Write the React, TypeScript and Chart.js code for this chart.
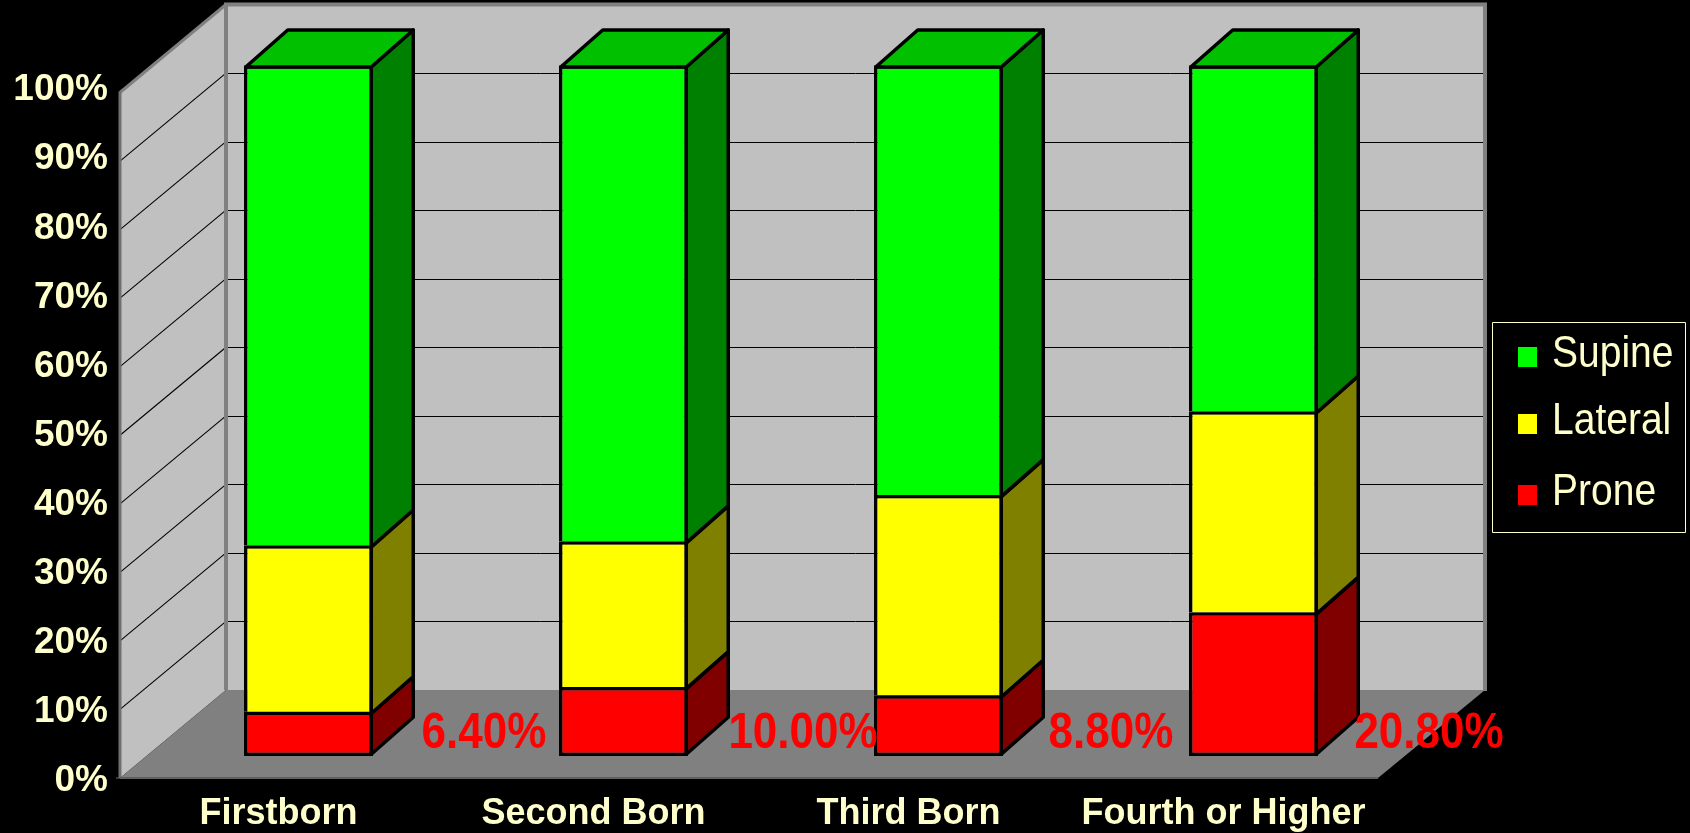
import React, { useEffect, useRef } from "react";
import { Chart, registerables } from "chart.js";

Chart.register(...registerables);

const categories = ["Firstborn", "Second Born", "Third Born", "Fourth or Higher"];
const prone = [6.4, 10.0, 8.8, 20.8];
const lateral = [24.1, 21.1, 29.0, 29.1];
const supine = [69.5, 68.9, 62.2, 50.1];
const yTicks = [10, 20, 30, 40, 50, 60, 70, 80, 90];

const CREAM = "#FFFFCC";
const FONT = '"Liberation Sans", Arial, sans-serif';

// Faces of the extruded columns, keyed by dataset label.
const sideColors: Record<string, string> = { Prone: "#800000", Lateral: "#808000", Supine: "#008000" };
const TOP_COLOR = "#00C000";

// Box geometry of the pseudo-3D plot room.
const ROOM = { frontX: 120, backX: 226, rightX: 1485, frontRightX: 1378, frontBase: 778, backBase: 690, height: 685.5 };
const BAR_DEPTH = { dx: 42, dy: 37 };
const VALUE_LABEL_SHIFT = [111, 115, 108, 111];
const OUTLINE = 3.5;

function poly(ctx: CanvasRenderingContext2D, pts: number[][], fill?: string, stroke?: string, lw = 1) {
  ctx.beginPath();
  pts.forEach(([x, y], i) => (i ? ctx.lineTo(x, y) : ctx.moveTo(x, y)));
  ctx.closePath();
  if (fill) {
    ctx.fillStyle = fill;
    ctx.fill();
  }
  if (stroke) {
    ctx.strokeStyle = stroke;
    ctx.lineWidth = lw;
    ctx.lineJoin = "round";
    ctx.stroke();
  }
}

function line(ctx: CanvasRenderingContext2D, x1: number, y1: number, x2: number, y2: number, color: string, lw: number) {
  ctx.beginPath();
  ctx.moveTo(x1, y1);
  ctx.lineTo(x2, y2);
  ctx.strokeStyle = color;
  ctx.lineWidth = lw;
  ctx.stroke();
}

// Text drawn slightly condensed, i.e. taller than its natural proportions.
function tallText(ctx: CanvasRenderingContext2D, text: string, x: number, y: number, stretch: number) {
  ctx.save();
  ctx.translate(x, y);
  ctx.scale(1, stretch);
  ctx.fillText(text, 0, 0);
  ctx.restore();
}

// Walls, floor and gridlines behind the columns.
const roomPlugin = {
  id: "room",
  beforeDatasetsDraw(chart: any) {
    const ctx: CanvasRenderingContext2D = chart.ctx;
    const R = ROOM;
    const frontTop = R.frontBase - R.height;
    const backTop = R.backBase - R.height;
    ctx.save();
    poly(ctx, [[R.backX, backTop], [R.rightX, backTop], [R.rightX, R.backBase], [R.backX, R.backBase]], "#C0C0C0");
    poly(ctx, [[R.frontX, frontTop], [R.backX, backTop], [R.backX, R.backBase], [R.frontX, R.frontBase]], "#C0C0C0");
    poly(ctx, [[R.frontX, R.frontBase], [R.backX, R.backBase], [R.rightX, R.backBase], [R.frontRightX, R.frontBase]], "#808080");

    yTicks.forEach((v) => {
      const fy = R.frontBase - (v / 100) * R.height;
      const by = R.backBase - (v / 100) * R.height;
      line(ctx, R.frontX, fy, R.backX, by, "#000", 1.1);
      const crisp = Math.round(by) + 0.5;
      line(ctx, R.backX, crisp, R.rightX, crisp, "#000", 1);
    });

    const edge = "#808080";
    line(ctx, R.backX, backTop, R.backX, R.backBase, edge, 4);
    line(ctx, R.backX - 2, backTop, R.rightX + 2, backTop, edge, 4);
    line(ctx, R.rightX, backTop, R.rightX, R.backBase + 1, edge, 4);
    line(ctx, R.frontX, frontTop, R.backX, backTop, edge, 3);
    line(ctx, R.frontX, frontTop - 1, R.frontX, R.frontBase, "#707070", 3);
    line(ctx, R.frontX, R.frontBase, R.frontRightX, R.frontBase, "#606060", 2);
    line(ctx, R.frontX - 4, R.frontBase, R.frontX, R.frontBase, "#707070", 1);
    ctx.restore();
  },
};

// Side and top faces of the columns, the value captions and the legend box.
const columnPlugin = {
  id: "columns",
  afterDatasetsDraw(chart: any) {
    const ctx: CanvasRenderingContext2D = chart.ctx;
    const { dx, dy } = BAR_DEPTH;
    const half = OUTLINE / 2;
    ctx.save();
    chart.data.datasets.forEach((ds: any, di: number) => {
      chart.getDatasetMeta(di).data.forEach((bar: any) => {
        const right = bar.x + bar.width / 2 - half;
        const left = bar.x - bar.width / 2 + half;
        const top = bar.y + half;
        const base = di === 0 ? bar.base - half : bar.base + half;
        poly(ctx, [[right, top], [right + dx, top - dy], [right + dx, base - dy], [right, base]], sideColors[ds.label], "#000", OUTLINE);
        if (di === chart.data.datasets.length - 1) {
          poly(ctx, [[left, top], [left + dx, top - dy], [right + dx, top - dy], [right, top]], TOP_COLOR, "#000", OUTLINE);
        }
      });
    });

    const y0 = chart.scales.y.getPixelForValue(0);
    ctx.font = `bold 44px ${FONT}`;
    ctx.fillStyle = "#FF0000";
    ctx.textAlign = "center";
    ctx.textBaseline = "middle";
    chart.getDatasetMeta(0).data.forEach((bar: any, i: number) => {
      tallText(ctx, prone[i].toFixed(2) + "%", bar.x + bar.width / 2 + VALUE_LABEL_SHIFT[i], y0 - 22, 1.15);
    });

    // Legend, listed from the top of the stack downward.
    const box = { x: 1492.5, y: 322.5, w: 193, h: 210 };
    ctx.fillStyle = "#000";
    ctx.fillRect(box.x, box.y, box.w, box.h);
    ctx.strokeStyle = CREAM;
    ctx.lineWidth = 1;
    ctx.strokeRect(box.x, box.y, box.w, box.h);
    const rows = [347, 414, 485];
    [...chart.data.datasets].reverse().forEach((ds: any, i: number) => {
      ctx.fillStyle = ds.backgroundColor;
      ctx.fillRect(1518, rows[i], 19, 20);
      ctx.fillStyle = CREAM;
      ctx.font = `39px ${FONT}`;
      ctx.textAlign = "left";
      ctx.textBaseline = "middle";
      tallText(ctx, ds.label, 1552, rows[i] + 8, 1.13);
    });
    ctx.restore();
  },
};

export default function App() {
  const ref = useRef<HTMLCanvasElement>(null);

  useEffect(() => {
    const chart = new Chart(ref.current as HTMLCanvasElement, {
      type: "bar",
      data: {
        labels: categories,
        datasets: [
          { label: "Prone", data: prone, backgroundColor: "#FF0000", borderSkipped: false },
          { label: "Lateral", data: lateral, backgroundColor: "#FFFF00" },
          { label: "Supine", data: supine, backgroundColor: "#00FF00" },
        ].map((d) => ({
          ...d,
          borderColor: "#000",
          borderWidth: OUTLINE,
          inflateAmount: 0,
          categoryPercentage: 1,
          barPercentage: 129 / 315,
        })),
      } as any,
      options: {
        responsive: false,
        animation: false,
        layout: { padding: { top: 65, right: 279, bottom: 0, left: 0 } },
        plugins: { legend: { display: false }, tooltip: { enabled: false } },
        scales: {
          x: {
            stacked: true,
            grid: { display: false },
            border: { display: false },
            ticks: {
              color: CREAM,
              font: { family: FONT, size: 36, weight: "bold" },
              padding: 28,
              labelOffset: -30,
              maxRotation: 0,
              autoSkip: false,
            },
            afterFit: (s: any) => {
              s.height = 77;
            },
          },
          y: {
            stacked: true,
            min: 0,
            max: 100,
            grid: { display: false, drawTicks: false },
            border: { display: false },
            ticks: {
              stepSize: 10,
              color: CREAM,
              font: { family: FONT, size: 37, weight: "bold" },
              padding: 43,
              labelOffset: 25,
              callback: (v: any) => v + "%",
            },
            afterFit: (s: any) => {
              s.width = 151;
            },
          },
        },
      } as any,
      plugins: [roomPlugin, columnPlugin],
    });
    return () => chart.destroy();
  }, []);

  return (
    <div style={{ position: "fixed", inset: 0, background: "#000", overflow: "hidden" }}>
      <canvas ref={ref} width={1690} height={833} style={{ display: "block" }} />
    </div>
  );
}
